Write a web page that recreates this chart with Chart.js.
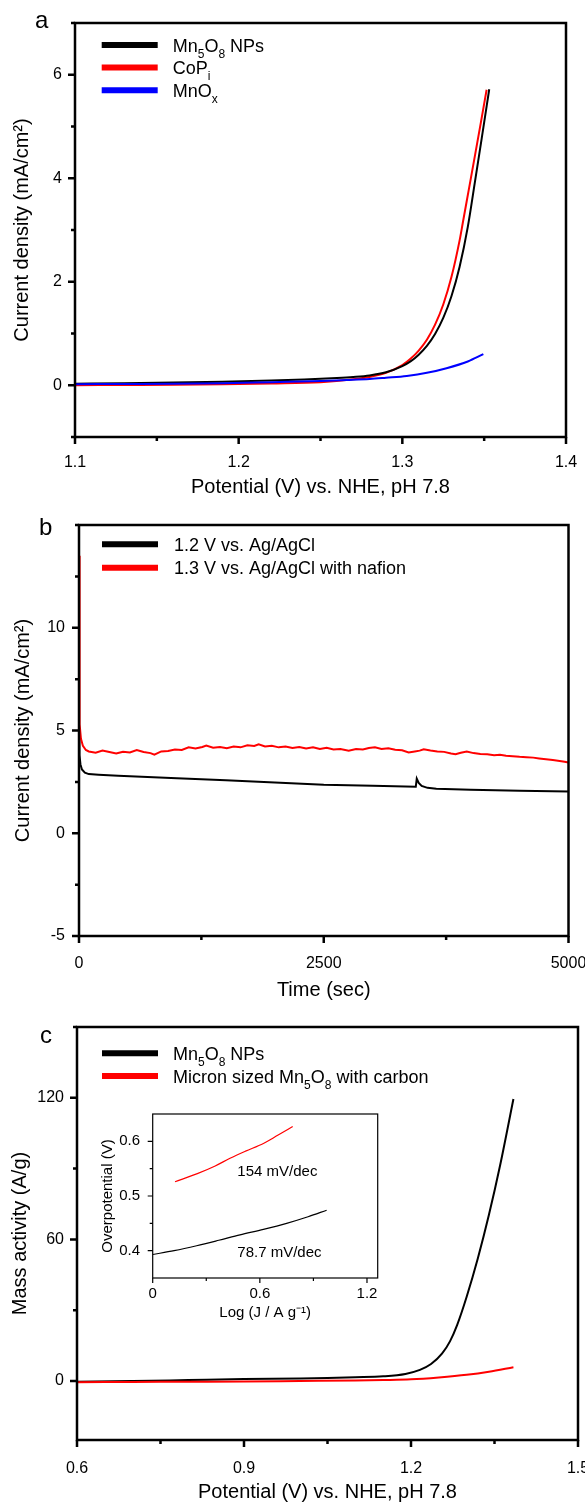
<!DOCTYPE html>
<html>
<head>
<meta charset="utf-8">
<script src="https://cdn.jsdelivr.net/npm/chart.js@4.4.0/dist/chart.umd.min.js"></script>
<style>
  html, body { margin:0; padding:0; background:#fff; }
  #wrap { position:relative; width:585px; height:1504px; overflow:hidden; background:#fff; }
  canvas { position:absolute; }
  .lt { position:absolute; font-family:"Liberation Sans", Arial, sans-serif; font-size:24px; line-height:24px; color:#000; }
</style>
</head>
<body>
<div id="wrap">
  <canvas id="ca" width="585" height="500" style="left:0;top:0"></canvas>
  <canvas id="cb" width="585" height="502" style="left:0;top:500px"></canvas>
  <canvas id="cc" width="585" height="504" style="left:0;top:1000px"></canvas>
  <canvas id="ci" width="310" height="225" style="left:90px;top:1100px"></canvas>
  <div class="lt" style="left:35px;top:8px">a</div>
  <div class="lt" style="left:39px;top:515px">b</div>
  <div class="lt" style="left:40px;top:1023px">c</div>
</div>
<script>
// ================= DATA =================
// Panel a: LSV, potential (V) vs current density (mA/cm2)
const aV_Mn5O8 = [1.10, 1.13, 1.16, 1.19, 1.22, 1.24, 1.26, 1.27, 1.28, 1.29, 1.30, 1.305, 1.31, 1.315, 1.32, 1.325, 1.33, 1.335, 1.34, 1.3445, 1.3485, 1.3531];
const aJ_Mn5O8 = [0.03, 0.04, 0.055, 0.07, 0.09, 0.11, 0.14, 0.16, 0.19, 0.25, 0.37, 0.46, 0.59, 0.76, 0.99, 1.30, 1.72, 2.29, 3.06, 3.96, 4.77, 5.72];
const aV_CoPi = [1.10, 1.13, 1.16, 1.19, 1.22, 1.25, 1.27, 1.28, 1.29, 1.30, 1.305, 1.31, 1.315, 1.32, 1.325, 1.33, 1.335, 1.3369, 1.3405, 1.3445, 1.348, 1.3515];
const aJ_CoPi = [0.00, 0.005, 0.01, 0.02, 0.035, 0.06, 0.115, 0.16, 0.24, 0.39, 0.51, 0.67, 0.88, 1.17, 1.56, 2.09, 2.80, 3.13, 3.76, 4.46, 5.08, 5.71];
const aV_MnOx = [1.10, 1.13, 1.16, 1.19, 1.22, 1.25, 1.266, 1.28, 1.29, 1.3027, 1.315, 1.327, 1.34, 1.3495];
const aJ_MnOx = [0.02, 0.025, 0.03, 0.04, 0.06, 0.08, 0.10, 0.12, 0.145, 0.18, 0.24, 0.33, 0.46, 0.60];
const aXTicks = [1.1, 1.2, 1.3, 1.4];
const aXMinor = [1.15, 1.25, 1.35];
const aYTicks = [0, 2, 4, 6];
const aYMinor = [-1, 1, 3, 5, 7];

// Panel b: chronoamperometry, time (s) vs current density
const bT_12V = [0, 5, 15, 30, 60, 100, 200, 400, 700, 1000, 1500, 2000, 2500, 3000, 3440, 3450, 3470, 3500, 3560, 3650, 4000, 4500, 5000];
const bJ_12V = [4.6, 3.8, 3.35, 3.1, 2.95, 2.88, 2.85, 2.80, 2.74, 2.68, 2.58, 2.47, 2.36, 2.31, 2.26, 2.66, 2.45, 2.30, 2.21, 2.17, 2.12, 2.07, 2.03];
const bT_13V = [0, 3, 6, 10, 20, 40, 70, 100, 170, 240, 310, 380, 450, 520, 590, 660, 730, 770, 840, 910, 980, 1050, 1120, 1190, 1260, 1300, 1370, 1440, 1510, 1580, 1650, 1720, 1790, 1835, 1900, 1970, 2040, 2110, 2180, 2250, 2320, 2390, 2460, 2530, 2600, 2670, 2755, 2830, 2900, 2960, 3023, 3090, 3160, 3230, 3300, 3367, 3430, 3480, 3521, 3590, 3660, 3730, 3800, 3846, 3900, 3961, 4030, 4100, 4170, 4240, 4300, 4362, 4430, 4500, 4570, 4640, 4700, 4770, 4840, 4910, 4960, 5000];
const bJ_13V = [13.5, 9.0, 6.5, 5.3, 4.6, 4.25, 4.05, 3.98, 3.92, 4.02, 3.95, 3.88, 3.97, 3.93, 4.05, 3.95, 3.90, 3.82, 3.98, 4.00, 4.08, 4.05, 4.18, 4.12, 4.20, 4.27, 4.16, 4.20, 4.14, 4.22, 4.18, 4.28, 4.25, 4.33, 4.22, 4.26, 4.18, 4.22, 4.15, 4.20, 4.12, 4.18, 4.10, 4.16, 4.08, 4.10, 4.02, 4.10, 4.08, 4.15, 4.18, 4.10, 4.14, 4.06, 4.04, 3.93, 3.98, 4.02, 4.09, 4.03, 3.98, 3.96, 3.88, 3.85, 3.92, 3.98, 3.90, 3.86, 3.84, 3.80, 3.82, 3.77, 3.75, 3.72, 3.70, 3.68, 3.64, 3.60, 3.56, 3.52, 3.48, 3.44];
const bXTicks = [0, 2500, 5000];
const bXMinor = [1250, 3750];
const bYTicks = [-5, 0, 5, 10];
const bYMinor = [-2.5, 2.5, 7.5, 12.5, 15];

// Panel c: mass activity (A/g) vs potential
const cV_NP = [0.60, 0.70, 0.80, 0.90, 1.00, 1.05, 1.10, 1.15, 1.19, 1.216, 1.236, 1.256, 1.27, 1.283, 1.30, 1.32, 1.34, 1.36, 1.384];
const cA_NP = [-0.3, 0.0, 0.4, 0.8, 1.1, 1.3, 1.6, 2.0, 3.0, 4.7, 7.2, 11.7, 16.8, 23.8, 35.7, 51.9, 70.4, 91.3, 119.5];
const cV_micron = [0.60, 0.70, 0.80, 0.90, 1.00, 1.10, 1.15, 1.20, 1.25, 1.30, 1.34, 1.384];
const cA_micron = [-0.5, -0.4, -0.3, -0.2, 0.0, 0.2, 0.4, 0.7, 1.5, 2.6, 3.9, 5.8];
const cXTicks = [0.6, 0.9, 1.2, 1.5];
const cXMinor = [0.75, 1.05, 1.35];
const cYTicks = [0, 60, 120];
const cYMinor = [30, 90, 150];

// Inset: Tafel, log J vs overpotential
const iLog_micron = [0.125, 0.25, 0.35, 0.433, 0.52, 0.62, 0.70, 0.784];
const iEta_micron = [0.526, 0.541, 0.555, 0.569, 0.582, 0.596, 0.611, 0.627];
const iLog_NP = [0.0, 0.12, 0.246, 0.37, 0.489, 0.62, 0.75, 0.87, 0.974];
const iEta_NP = [0.393, 0.400, 0.409, 0.419, 0.429, 0.439, 0.450, 0.462, 0.474];
const iXTicks = [0, 0.6, 1.2];
const iXMinor = [0.3, 0.9];
const iYTicks = [0.4, 0.5, 0.6];
const iYMinor = [0.45, 0.55];
const iSlopeLabels = ['154 mV/dec', '78.7 mV/dec'];

// ================= HELPERS =================
const FAMILY = '"Liberation Sans", Arial, Helvetica, sans-serif';
Chart.defaults.font.family = FAMILY;
Chart.defaults.color = '#000';
const pts = (xs, ys) => xs.map((x, i) => ({ x: x, y: ys[i] }));

const SUB = {'₀':'0','₁':'1','₂':'2','₃':'3','₄':'4','₅':'5','₆':'6','₇':'7','₈':'8','₉':'9','ᵢ':'i','ₓ':'x'};
function drawRich(ctx, text, x, y, size, subSize, subDy) {
  const runs = [];
  for (const ch of text) {
    const sub = Object.prototype.hasOwnProperty.call(SUB, ch);
    const c = sub ? SUB[ch] : ch;
    if (runs.length && runs[runs.length - 1].sub === sub) runs[runs.length - 1].t += c;
    else runs.push({ t: c, sub: sub });
  }
  ctx.textBaseline = 'alphabetic';
  ctx.textAlign = 'left';
  ctx.fillStyle = '#000';
  for (const r of runs) {
    ctx.font = (r.sub ? subSize : size) + 'px ' + FAMILY;
    ctx.fillText(r.t, x, r.sub ? y + subDy : y);
    x += ctx.measureText(r.t).width;
  }
}

const framePlugin = {
  id: 'frame',
  afterDatasetsDraw(chart, args, o) {
    const { ctx, chartArea: ca, scales } = chart;
    ctx.save();
    ctx.strokeStyle = '#000';
    ctx.lineWidth = o.lw;
    ctx.lineCap = 'butt';
    ctx.strokeRect(ca.left, ca.top, ca.right - ca.left, ca.bottom - ca.top);
    ctx.beginPath();
    const xs = scales.x, ys = scales.y;
    const hx = (vals, len) => vals.forEach(v => { const p = xs.getPixelForValue(v); ctx.moveTo(p, ca.bottom); ctx.lineTo(p, ca.bottom + len); });
    const hy = (vals, len) => vals.forEach(v => { const p = ys.getPixelForValue(v); ctx.moveTo(ca.left, p); ctx.lineTo(ca.left - len, p); });
    hx(o.xMajor, o.majorLen); hx(o.xMinor, o.minorLen);
    hy(o.yMajor, o.majorLen); hy(o.yMinor, o.minorLen);
    ctx.stroke();
    ctx.restore();
  }
};

const legendPlugin = {
  id: 'inlegend',
  afterDraw(chart, args, o) {
    if (!o || !o.show) return;
    const { ctx, chartArea: ca } = chart;
    ctx.save();
    chart.data.datasets.forEach((ds, i) => {
      const x = ca.left + o.x;
      const y = ca.top + o.y + i * o.dy;
      ctx.strokeStyle = ds.borderColor;
      ctx.lineWidth = 6;
      ctx.lineCap = 'butt';
      ctx.beginPath();
      ctx.moveTo(x, y);
      ctx.lineTo(x + 56, y);
      ctx.stroke();
      drawRich(ctx, ds.label, x + o.textDx, y + 6.5, 18, 12, 6);
    });
    ctx.restore();
  }
};

const notePlugin = {
  id: 'notes',
  afterDraw(chart, args, o) {
    if (!o || !o.items) return;
    const { ctx, scales } = chart;
    ctx.save();
    ctx.fillStyle = '#000';
    ctx.font = o.size + 'px ' + FAMILY;
    ctx.textAlign = 'left';
    ctx.textBaseline = 'middle';
    o.items.forEach(it => ctx.fillText(it.text, scales.x.getPixelForValue(it.x), scales.y.getPixelForValue(it.y)));
    ctx.restore();
  }
};

function axis(c) {
  return {
    type: 'linear', min: c.min, max: c.max,
    grid: { display: false, drawTicks: false },
    border: { display: false },
    ticks: { font: { size: c.tickSize }, color: '#000', padding: c.tickPad, autoSkip: false, maxRotation: 0, minRotation: 0,
             callback: (v) => c.fmt(v) },
    title: { display: true, text: c.title, color: '#000', font: { size: c.titleSize }, padding: { top: c.titlePad, bottom: c.titlePad } },
    afterBuildTicks: (s) => { s.ticks = c.ticks.map(v => ({ value: v })); },
    afterFit: (s) => {
      if (c.horizontal) s.height = c.size; else s.width = c.size;
      s.paddingLeft = 0; s.paddingRight = 0; s.paddingTop = 0; s.paddingBottom = 0;
    }
  };
}

function lineDs(label, xs, ys, color, width, order, smooth) {
  return { label: label, data: pts(xs, ys), borderColor: color, backgroundColor: color, borderWidth: width,
           pointRadius: 0, fill: false, order: order, tension: 0,
           cubicInterpolationMode: smooth ? 'monotone' : 'default' };
}

const baseOpts = {
  responsive: false, animation: false, events: [],
  plugins: { legend: { display: false }, tooltip: { enabled: false } }
};

function make(id, cfg) {
  return new Chart(document.getElementById(id), {
    type: 'line',
    data: { datasets: cfg.datasets },
    options: Object.assign({}, baseOpts, {
      layout: { padding: cfg.padding },
      scales: { x: cfg.x, y: cfg.y },
      plugins: Object.assign({}, baseOpts.plugins, { frame: cfg.frame, inlegend: cfg.legend || { show: false }, notes: cfg.notes || {} })
    }),
    plugins: [framePlugin, legendPlugin, notePlugin]
  });
}

const f1 = v => v.toFixed(1);
const f0 = v => String(v);

// ================= PANEL A =================
make('ca', {
  datasets: [
    lineDs('Mn₅O₈ NPs', aV_Mn5O8, aJ_Mn5O8, '#000000', 2, 1, true),
    lineDs('CoPᵢ', aV_CoPi, aJ_CoPi, '#ff0000', 2, 2, true),
    lineDs('MnOₓ', aV_MnOx, aJ_MnOx, '#0000ff', 2, 0, true)
  ],
  padding: { top: 23, right: 19, left: 0, bottom: 0 },
  x: axis({ min: 1.1, max: 1.4, ticks: aXTicks, fmt: f1, title: 'Potential (V) vs. NHE, pH 7.8', tickSize: 16, titleSize: 20, tickPad: 16, titlePad: 1, horizontal: true, size: 63 }),
  y: axis({ min: -1, max: 7, ticks: aYTicks, fmt: f0, title: 'Current density (mA/cm²)', tickSize: 16, titleSize: 20, tickPad: 13, titlePad: 10, horizontal: false, size: 75 }),
  frame: { lw: 2.5, majorLen: 7, minorLen: 4, xMajor: aXTicks, xMinor: aXMinor, yMajor: aYTicks, yMinor: aYMinor },
  legend: { show: true, x: 26.7, y: 22, dy: 22.6, textDx: 71 }
});

// ================= PANEL B =================
make('cb', {
  datasets: [
    lineDs('1.2 V vs. Ag/AgCl', bT_12V, bJ_12V, '#000000', 2, 1, false),
    lineDs('1.3 V vs. Ag/AgCl with nafion', bT_13V, bJ_13V, '#ff0000', 2, 0, false)
  ],
  padding: { top: 25, right: 16.5, left: 0, bottom: 0 },
  x: axis({ min: 0, max: 5000, ticks: bXTicks, fmt: f0, title: 'Time (sec)', tickSize: 16, titleSize: 20, tickPad: 18, titlePad: 0, horizontal: true, size: 66 }),
  y: axis({ min: -5, max: 15, ticks: bYTicks, fmt: f0, title: 'Current density (mA/cm²)', tickSize: 16, titleSize: 20, tickPad: 14, titlePad: 11, horizontal: false, size: 79 }),
  frame: { lw: 2.5, majorLen: 7, minorLen: 4, xMajor: bXTicks, xMinor: bXMinor, yMajor: bYTicks, yMinor: bYMinor },
  legend: { show: true, x: 23, y: 19.3, dy: 23.4, textDx: 72 }
});

// ================= PANEL C =================
make('cc', {
  datasets: [
    lineDs('Mn₅O₈ NPs', cV_NP, cA_NP, '#000000', 2, 1, true),
    lineDs('Micron sized Mn₅O₈ with carbon', cV_micron, cA_micron, '#ff0000', 2, 0, true)
  ],
  padding: { top: 27, right: 7, left: 0, bottom: 0 },
  x: axis({ min: 0.6, max: 1.5, ticks: cXTicks, fmt: f1, title: 'Potential (V) vs. NHE, pH 7.8', tickSize: 16, titleSize: 20, tickPad: 19, titlePad: 0, horizontal: true, size: 64 }),
  y: axis({ min: -25, max: 150, ticks: cYTicks, fmt: f0, title: 'Mass activity (A/g)', tickSize: 16, titleSize: 20, tickPad: 13, titlePad: 8, horizontal: false, size: 77 }),
  frame: { lw: 2.5, majorLen: 7, minorLen: 4, xMajor: cXTicks, xMinor: cXMinor, yMajor: cYTicks, yMinor: cYMinor },
  legend: { show: true, x: 25, y: 26.3, dy: 22.7, textDx: 71 }
});

// ================= INSET =================
make('ci', {
  datasets: [
    lineDs('Micron sized Mn₅O₈ with carbon', iLog_micron, iEta_micron, '#ff0000', 1.2, 0, true),
    lineDs('Mn₅O₈ NPs', iLog_NP, iEta_NP, '#000000', 1.2, 1, true)
  ],
  padding: { top: 14, right: 22.3, left: 0, bottom: 0 },
  x: axis({ min: 0, max: 1.26, ticks: iXTicks, fmt: v => (v === 0 ? '0' : v.toFixed(1)), title: 'Log (J / A g⁻¹)', tickSize: 15, titleSize: 15, tickPad: 7, titlePad: 3, horizontal: true, size: 47 }),
  y: axis({ min: 0.35, max: 0.65, ticks: iYTicks, fmt: f1, title: 'Overpotential (V)', tickSize: 15, titleSize: 15, tickPad: 12.7, titlePad: 9, horizontal: false, size: 62.7 }),
  frame: { lw: 1.2, majorLen: 5, minorLen: 3, xMajor: iXTicks, xMinor: iXMinor, yMajor: iYTicks, yMinor: iYMinor },
  notes: { size: 15, items: [
    { text: iSlopeLabels[0], x: 0.474, y: 0.5445 },
    { text: iSlopeLabels[1], x: 0.474, y: 0.3963 }
  ] }
});
</script>
</body>
</html>
